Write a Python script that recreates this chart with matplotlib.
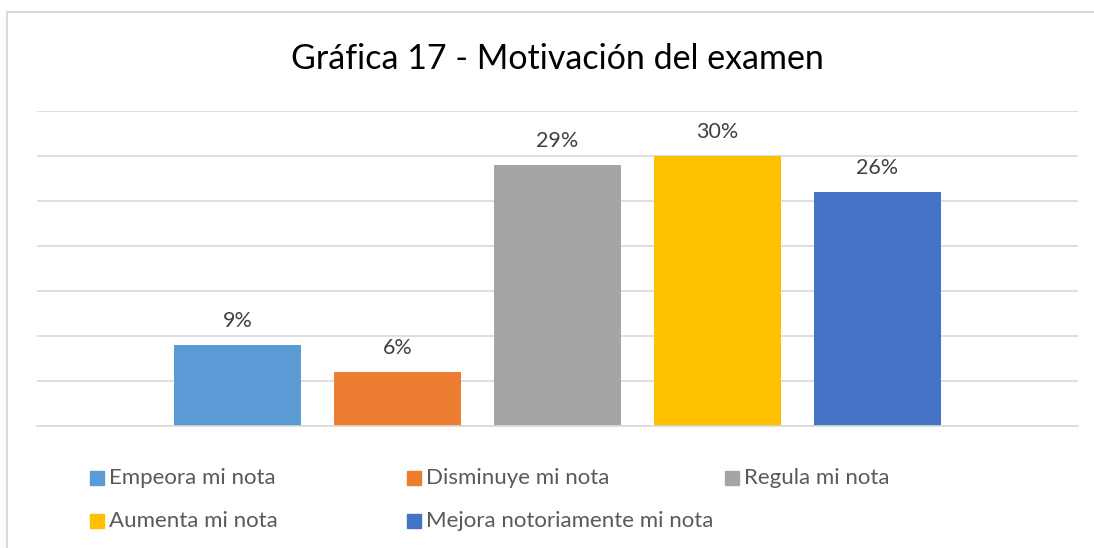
import matplotlib
matplotlib.use("Agg")
import matplotlib.pyplot as plt
from matplotlib.patches import Rectangle
from matplotlib.lines import Line2D

title = "Gráfica 17 - Motivación del examen"
series = ["Empeora mi nota", "Disminuye mi nota", "Regula mi nota",
          "Aumenta mi nota", "Mejora notoriamente mi nota"]
values = [9, 6, 29, 30, 26]
labels = ["9%", "6%", "29%", "30%", "26%"]
colors = ["#5B9BD5", "#ED7D31", "#A5A5A5", "#FFC000", "#4472C4"]

plt.rcParams['font.family'] = ['Lato', 'DejaVu Sans']

W, H = 1094, 548
fig = plt.figure(figsize=(W / 100, H / 100), dpi=100)
fig.patch.set_facecolor("white")

# outer chart border
fig.add_artist(Line2D([7 / W, 7 / W], [0, 1 - 12 / H], color="#D9D9D9", lw=1.5, transform=fig.transFigure))
fig.add_artist(Line2D([7 / W, 1], [1 - 12 / H, 1 - 12 / H], color="#D9D9D9", lw=1.5, transform=fig.transFigure))

left, right, top, bottom = 37, 1078, 111, 426
ax = fig.add_axes([left / W, 1 - bottom / H, (right - left) / W, (bottom - top) / H])
ax.set_ylim(0, 35)
x = list(range(len(values)))
half = (right - left) / 2 / 160
ax.set_xlim(2 - half, 2 + half)
ax.set_yticks([0, 5, 10, 15, 20, 25, 30, 35])
ax.yaxis.grid(True, color="#D9D9D9", lw=1.2)
ax.set_axisbelow(True)
ax.tick_params(left=False, bottom=False, labelleft=False, labelbottom=False)
for s in ["left", "right", "top"]:
    ax.spines[s].set_visible(False)
ax.spines["bottom"].set_color("#D9D9D9")
ax.spines["bottom"].set_linewidth(1.2)

bars = ax.bar(x, values, width=127 / 160, color=colors)
for b, lab in zip(bars, labels):
    ax.annotate(lab, (b.get_x() + b.get_width() / 2, b.get_height()),
                xytext=(0, 10), textcoords="offset points", ha="center", va="bottom",
                fontsize=15.5, color="#404040")

fig.text(557 / W, 1 - 59 / H, title, ha="center", va="center", fontsize=24.5, color="#000000")

# legend
pos = [(90, 478), (407, 478), (725, 478), (90, 521), (407, 521)]
for (px, py), name, c in zip(pos, series, colors):
    fig.add_artist(Rectangle((px / W, 1 - (py + 7) / H), 14 / W, 14 / H, color=c,
                             transform=fig.transFigure))
    fig.text((px + 19) / W, 1 - py / H, name, ha="left", va="center", fontsize=16, color="#595959")

fig.savefig("out.png", dpi=100)
